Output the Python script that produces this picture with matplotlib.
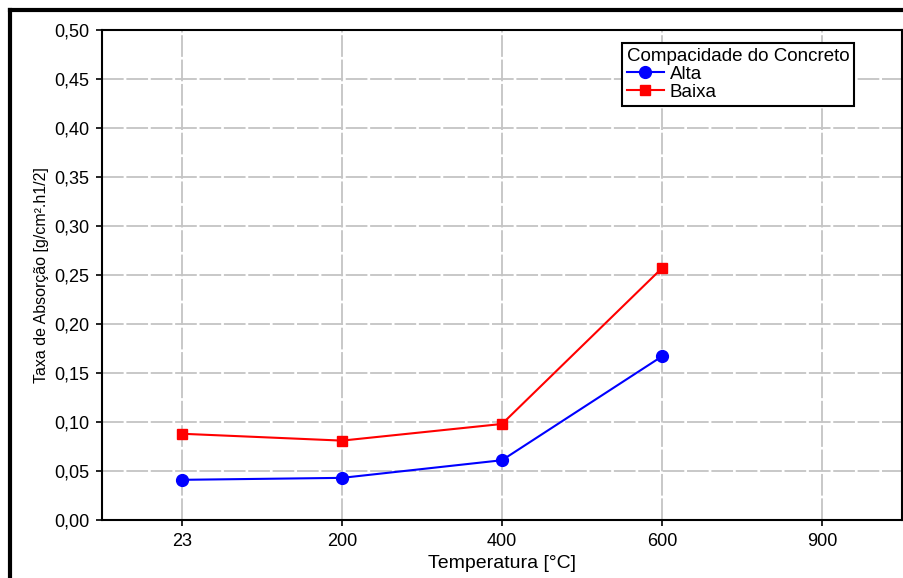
import matplotlib
matplotlib.use("Agg")
from matplotlib import pyplot as plt
from matplotlib.ticker import FuncFormatter
from matplotlib.lines import Line2D

plt.rcParams["font.family"] = ["Liberation Sans", "DejaVu Sans"]

temperaturas = ["23", "200", "400", "600", "900"]
alta = [0.041, 0.043, 0.061, 0.167]
baixa = [0.088, 0.081, 0.098, 0.257]
yticks = [0.0, 0.05, 0.10, 0.15, 0.20, 0.25, 0.30, 0.35, 0.40, 0.45, 0.50]

fig = plt.figure(figsize=(9.04, 5.78), dpi=100)
ax = fig.add_axes([102 / 904, 1 - 520 / 578, 800 / 904, 490 / 578])

x = range(len(alta))
ax.plot(x, alta, color="blue", marker="o", markersize=8.5, lw=1.5, label="Alta")
ax.plot(x, baixa, color="red", marker="s", markersize=7.5, mfc="red", mec="red",
        lw=1.5, label="Baixa")

ax.set_xlim(-0.5, len(temperaturas) - 0.5)
ax.set_ylim(0, 0.5)
ax.set_xticks(range(len(temperaturas)))
ax.set_xticklabels(temperaturas)
ax.set_yticks(yticks)
ax.yaxis.set_major_formatter(FuncFormatter(lambda v, p: ("%.2f" % v).replace(".", ",")))
ax.tick_params(labelsize=13, length=4, width=1.2, direction="out", pad=5)
ax.grid(True, color="#c4c4c4", linestyle=(0, (12, 1.5)), lw=1.3)
ax.set_axisbelow(True)
for s in ax.spines.values():
    s.set_linewidth(1.5)

ax.set_xlabel("Temperatura [°C]", fontsize=14, labelpad=4)
ax.set_ylabel("Taxa de Absorção [g/cm².h1/2]", fontsize=11.5, labelpad=4)

leg = ax.legend(title="Compacidade do Concreto", loc="upper left",
                bbox_to_anchor=(0.65, 0.973), fontsize=13.5, title_fontsize=13.5,
                fancybox=False, edgecolor="black", framealpha=1,
                borderpad=0.25, labelspacing=0.05, handlelength=2.0,
                handletextpad=0.3, borderaxespad=0)
leg.get_frame().set_linewidth(1.5)
leg._legend_box.align = "left"

# moldura externa da figura
fig.add_artist(Line2D([10 / 904, 10 / 904], [0, 1 - 10 / 578], color="black",
                      lw=3, transform=fig.transFigure))
fig.add_artist(Line2D([10 / 904, 1], [1 - 10 / 578, 1 - 10 / 578], color="black",
                      lw=3, transform=fig.transFigure))

fig.savefig("out.png", dpi=100)
